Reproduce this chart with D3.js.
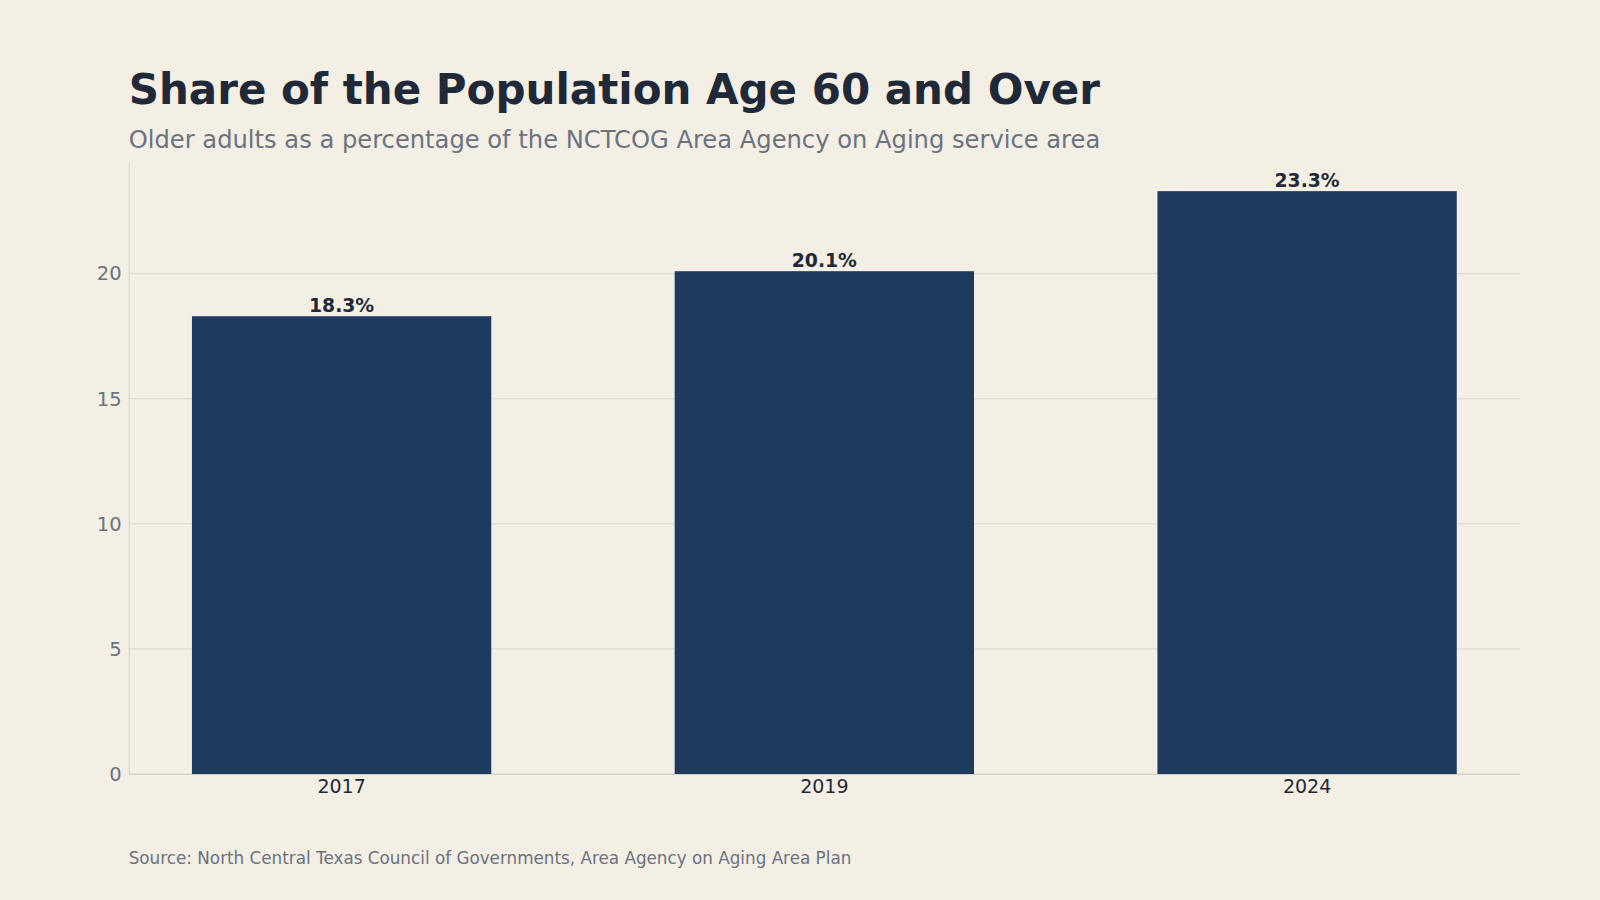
<!DOCTYPE html>
<html>
<head>
  <meta charset="utf-8">
  <title>Share of the Population Age 60 and Over</title>
  <script src="https://d3js.org/d3.v7.min.js"></script>
  <style>
    html, body { margin: 0; padding: 0; background: #f3efe4; }
    svg { display: block; font-family: "DejaVu Sans", sans-serif; }
  </style>
</head>
<body>
  <svg id="chart" width="1600" height="900"></svg>

  <script>
    // Chart data
    var years = ["2017", "2019", "2024"];
    var shares = [18.3, 20.1, 23.3];
    var yTicks = [0, 5, 10, 15, 20];

    // Plot area (pixel frame of the axes)
    var margin = { top: 162, right: 80, bottom: 126, left: 128.7 };
    var width = 1600 - margin.left - margin.right;
    var height = 900 - margin.top - margin.bottom;

    var svg = d3.select("#chart");

    svg.append("rect")
      .attr("width", 1600)
      .attr("height", 900)
      .attr("fill", "#f3efe4");

    var g = svg.append("g")
      .attr("transform", "translate(" + margin.left + "," + margin.top + ")");

    // Scales
    var xScale = d3.scaleBand()
      .domain(years)
      .range([0, width])
      .paddingInner(0.38)
      .paddingOuter(0.131);

    var yScale = d3.scaleLinear()
      .domain([0, d3.max(shares) * 1.05])
      .range([height, 0]);

    // Gridlines
    g.append("g")
      .selectAll("line")
      .data(yTicks)
      .join("line")
      .attr("x1", 0)
      .attr("x2", width)
      .attr("y1", function(d) { return yScale(d); })
      .attr("y2", function(d) { return yScale(d); })
      .attr("stroke", "#dcd7cb")
      .attr("stroke-width", 1);

    // Bars
    var data = years.map(function(y, i) { return { year: y, value: shares[i] }; });

    g.selectAll(".bar")
      .data(data)
      .join("rect")
      .attr("class", "bar")
      .attr("x", function(d) { return xScale(d.year); })
      .attr("y", function(d) { return yScale(d.value); })
      .attr("width", xScale.bandwidth())
      .attr("height", function(d) { return height - yScale(d.value); })
      .attr("fill", "#1f3a5f");

    // Value labels
    g.selectAll(".val")
      .data(data)
      .join("text")
      .attr("class", "val")
      .attr("x", function(d) { return xScale(d.year) + xScale.bandwidth() / 2; })
      .attr("y", function(d) { return yScale(d.value) - 4.5; })
      .attr("text-anchor", "middle")
      .attr("font-size", 18.8)
      .attr("font-weight", "bold")
      .attr("fill", "#1f2937")
      .text(function(d) { return d.value.toFixed(1) + "%"; });

    // Axes
    var yAxis = g.append("g")
      .call(d3.axisLeft(yScale).tickValues(yTicks).tickSize(0).tickPadding(7));
    yAxis.select(".domain").attr("stroke", "#d6d1c4");
    yAxis.selectAll("text")
      .attr("font-size", 19.5)
      .attr("font-family", "DejaVu Sans")
      .attr("fill", "#6b7280");

    var xAxis = g.append("g")
      .attr("transform", "translate(0," + height + ")")
      .call(d3.axisBottom(xScale).tickSize(0).tickPadding(6));
    xAxis.select(".domain").attr("stroke", "#d6d1c4");
    xAxis.selectAll("text")
      .attr("font-size", 19)
      .attr("font-family", "DejaVu Sans")
      .attr("fill", "#1f2937");

    // Title, subtitle, source
    svg.append("text")
      .attr("x", margin.left)
      .attr("y", 104)
      .attr("font-size", 42)
      .attr("font-weight", "bold")
      .attr("fill", "#1f2937")
      .text("Share of the Population Age 60 and Over");

    svg.append("text")
      .attr("x", margin.left)
      .attr("y", 148)
      .attr("font-size", 24.2)
      .attr("fill", "#6b7280")
      .text("Older adults as a percentage of the NCTCOG Area Agency on Aging service area");

    svg.append("text")
      .attr("x", margin.left)
      .attr("y", 864)
      .attr("font-size", 16.8)
      .attr("fill", "#6b7280")
      .text("Source: North Central Texas Council of Governments, Area Agency on Aging Area Plan");
  </script>
</body>
</html>
